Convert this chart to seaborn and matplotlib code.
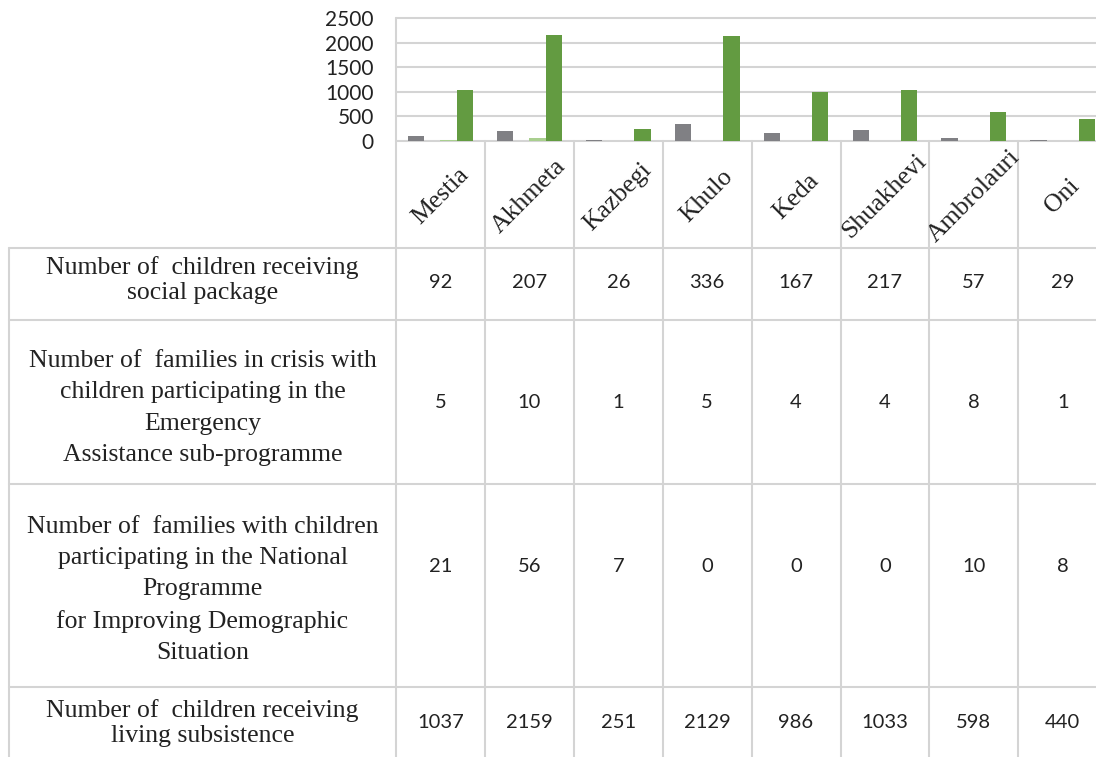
import numpy as np
import pandas as pd
import matplotlib
matplotlib.use("Agg")
import matplotlib.pyplot as plt
import seaborn as sns

# Districts and the four indicators per district
districts = ["Mestia", "Akhmeta", "Kazbegi", "Khulo", "Keda", "Shuakhevi", "Ambrolauri", "Oni"]
social_package = [92, 207, 26, 336, 167, 217, 57, 29]
crisis_families = [5, 10, 1, 5, 4, 4, 8, 1]
demographic_families = [21, 56, 7, 0, 0, 0, 10, 8]
living_subsistence = [1037, 2159, 251, 2129, 986, 1033, 598, 440]

series_labels = [
    "Number of  children receiving\nsocial package",
    "Number of  families in crisis with\nchildren participating in the\nEmergency\nAssistance sub-programme",
    "Number of  families with children\nparticipating in the National\nProgramme\nfor Improving Demographic\nSituation",
    "Number of  children receiving\nliving subsistence",
]
series_values = [social_package, crisis_families, demographic_families, living_subsistence]
series_colors = ["#808084", "#5c5c5e", "#a9cf8f", "#639b41"]
y_ticks = [0, 500, 1000, 1500, 2000, 2500]

df = pd.DataFrame(
    [(d, s, v) for s, vals in zip(series_labels, series_values) for d, v in zip(districts, vals)],
    columns=["district", "series", "value"],
)

sns.set_theme(style="white")
plt.rcParams["font.family"] = ["Lato", "DejaVu Sans"]

W, H = 1096, 757
fig = plt.figure(figsize=(W / 100, H / 100), dpi=100)

# layout in pixels
plot_left, col_w = 396, 88.9
plot_top, plot_zero = 18, 141
label_bottom = 248
row_edges = [248, 320, 484, 687]
table_left = 9
line_c = "#d4d4d4"
line_w = 1.5
text_c = "#222222"

# overlay for the data table drawn in pixel coordinates
ov = fig.add_axes([0, 0, 1, 1])
ov.set_xlim(0, W)
ov.set_ylim(H, 0)
ov.axis("off")

# bar chart axes
n = len(districts)
ax = fig.add_axes([
    plot_left / W,
    1 - plot_zero / H,
    n * col_w / W,
    (plot_zero - plot_top) / H,
])
ax.set_facecolor("none")
sns.barplot(
    data=df, x="district", y="value", hue="series", hue_order=series_labels,
    palette=series_colors, width=0.73, saturation=1, ax=ax, legend=False,
    edgecolor="none", linewidth=0,
)
ax.set_xlim(-0.5, n - 0.5)
ax.set_ylim(0, 2500)
ax.set_yticks(y_ticks)
ax.set_yticklabels([str(t) for t in y_ticks], fontsize=15, color=text_c)
ax.tick_params(axis="y", length=0, pad=16)
ax.set_xticks([])
ax.set_xlabel("")
ax.set_ylabel("")
for sp in ax.spines.values():
    sp.set_visible(False)
ax.yaxis.grid(True, color=line_c, lw=line_w)
ax.set_axisbelow(True)
for gl in ax.get_ygridlines():
    gl.set_clip_on(False)

# table lines
ov.plot([plot_left, plot_left], [plot_top, H], color=line_c, lw=line_w)
for i in range(1, n):
    x = plot_left + i * col_w
    ov.plot([x, x], [plot_zero, H], color=line_c, lw=line_w)
ov.plot([table_left, table_left], [label_bottom, H], color=line_c, lw=line_w)
for y in row_edges:
    ov.plot([table_left, W], [y, y], color=line_c, lw=line_w)

# district names
for i, d in enumerate(districts):
    cx = plot_left + (i + 0.5) * col_w
    ov.text(cx, (plot_zero + label_bottom) / 2 + 2, d, rotation=45, ha="center", va="center",
            rotation_mode="anchor", family="Liberation Serif", fontsize=18.5, color=text_c)

# row headers and values
label_y = [280, 408, 590, 723]
value_y = [283, 402, 566, 723]
spacing = [1.2, 1.56, 1.53, 1.2]
for r, (lab, vals) in enumerate(zip(series_labels, series_values)):
    ov.text((table_left + plot_left) / 2, label_y[r], lab, ha="center", va="center",
            family="Liberation Serif", fontsize=18.5, color=text_c, linespacing=spacing[r])
    for i, v in enumerate(vals):
        cx = plot_left + (i + 0.5) * col_w
        ov.text(cx, value_y[r], str(v), ha="center", va="center", fontsize=14.5, color=text_c)

fig.savefig("out.png", dpi=100)
